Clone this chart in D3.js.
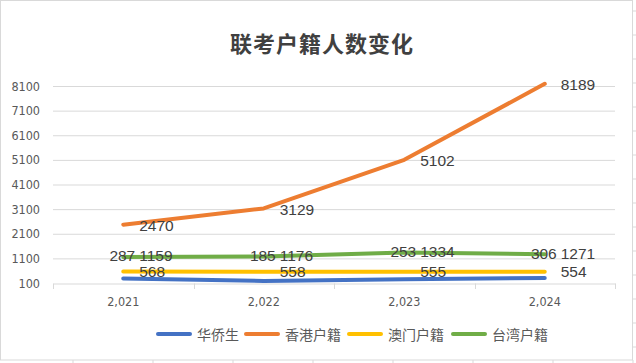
<!DOCTYPE html>
<html>
<head>
<meta charset="utf-8">
<script src="https://cdn.jsdelivr.net/npm/d3@7"></script>
<style>
  body { margin: 0; background: #fff; }
  svg { display: block; font-family: "Liberation Sans", "Noto Sans CJK SC", sans-serif; }
</style>
</head>
<body>
<div id="chart"></div>
<script>
// data
var years = [2021, 2022, 2023, 2024];
var yearLabels = ["2,021", "2,022", "2,023", "2,024"];
var huaqiao = [287, 185, 253, 306];
var hongkong = [2470, 3129, 5102, 8189];
var macau = [568, 558, 555, 554];
var taiwan = [1159, 1176, 1334, 1271];
var yTicks = [100, 1100, 2100, 3100, 4100, 5100, 6100, 7100, 8100];
var seriesNames = ["华侨生", "香港户籍", "澳门户籍", "台湾户籍"];
var seriesColors = ["#4472C4", "#ED7D31", "#FFC000", "#70AD47"];

var width = 636, height = 363;

var svg = d3.select("#chart").append("svg")
    .attr("width", width)
    .attr("height", height);

// spreadsheet cell stubs outside the chart
for (var gx = 73; gx < width; gx += 80) {
  svg.append("line").attr("x1", gx).attr("x2", gx).attr("y1", 360).attr("y2", 363)
    .attr("stroke", "#d9d9d9");
}
for (var gy = 11; gy < 360; gy += 24) {
  svg.append("line").attr("x1", 633).attr("x2", 636).attr("y1", gy).attr("y2", gy)
    .attr("stroke", "#d9d9d9");
}

// chart border
svg.append("rect")
    .attr("x", 0.5).attr("y", 0.5)
    .attr("width", 632).attr("height", 359.5)
    .attr("fill", "#fff")
    .attr("stroke", "#d9d9d9");

// title
svg.append("text")
    .attr("x", 322).attr("y", 52)
    .attr("text-anchor", "middle")
    .attr("font-family", "'Noto Sans CJK SC', sans-serif")
    .attr("font-weight", "bold")
    .attr("font-size", 22)
    .attr("letter-spacing", 1)
    .attr("fill", "#404040")
    .text("联考户籍人数变化");

// scales
var xscale = d3.scaleBand().domain(years).range([53, 615]);
var yscale = d3.scaleLinear().domain([100, 8100]).range([283, 86]);
function cx(d) { return xscale(d) + xscale.bandwidth() / 2; }

// gridlines
svg.append("g").selectAll("line")
    .data(yTicks.slice(1))
    .enter().append("line")
    .attr("x1", 53).attr("x2", 615)
    .attr("y1", function(d) { return yscale(d) + 0.5; })
    .attr("y2", function(d) { return yscale(d) + 0.5; })
    .attr("stroke", "#d9d9d9");

// y axis labels
var yAxis = d3.axisLeft(yscale).tickValues(yTicks).tickFormat(d3.format("d")).tickSize(0).tickPadding(13);
var gy2 = svg.append("g").attr("transform", "translate(53,0)").call(yAxis);
gy2.select(".domain").remove();
gy2.selectAll("text").attr("font-size", 12.5).attr("fill", "#595959")
    .attr("font-family", "'DejaVu Sans Condensed', 'Liberation Sans', sans-serif");

// x axis
var xAxis = d3.axisBottom(xscale).tickFormat(function(d, i) { return yearLabels[i]; }).tickSize(0).tickPadding(14);
var gx2 = svg.append("g").attr("transform", "translate(0,283.5)").call(xAxis);
gx2.select(".domain").attr("stroke", "#d9d9d9");
gx2.selectAll("text").attr("font-size", 12.5).attr("fill", "#595959")
    .attr("font-family", "'DejaVu Sans Condensed', 'Liberation Sans', sans-serif");
// category boundary ticks
var edges = years.map(function(d) { return xscale(d); }).concat([xscale.range()[1]]);
svg.append("g").selectAll("line").data(edges).enter().append("line")
    .attr("x1", function(d) { return Math.round(d) + 0.5; })
    .attr("x2", function(d) { return Math.round(d) + 0.5; })
    .attr("y1", 283.5).attr("y2", 289)
    .attr("stroke", "#d9d9d9");

// lines
var allSeries = [huaqiao, hongkong, macau, taiwan];
var line = d3.line()
    .x(function(d, i) { return cx(years[i]); })
    .y(function(d) { return yscale(d); });

allSeries.forEach(function(vals, s) {
  svg.append("path")
      .datum(vals)
      .attr("d", line)
      .attr("fill", "none")
      .attr("stroke", seriesColors[s])
      .attr("stroke-width", 4)
      .attr("stroke-linecap", "round")
      .attr("stroke-linejoin", "round");
});

// data labels
var labelG = svg.append("g")
    .attr("font-size", 15.5)
    .attr("fill", "#404040")
    .attr("font-family", "'Liberation Sans', sans-serif");

function rightLabels(vals, dy) {
  labelG.selectAll(null).data(vals).enter().append("text")
      .attr("x", function(d, i) { return cx(years[i]) + 16; })
      .attr("y", function(d) { return yscale(d) + dy; })
      .attr("dominant-baseline", "central")
      .text(function(d) { return d; });
}
rightLabels(hongkong, 1);
rightLabels(macau, 0);
rightLabels(taiwan, -1);

// 华侨生 labels sit left of the 台湾户籍 labels
labelG.selectAll(null).data(huaqiao).enter().append("text")
    .attr("x", function(d, i) { return cx(years[i]) + 12; })
    .attr("y", function(d, i) { return yscale(taiwan[i]) - 1; })
    .attr("dominant-baseline", "central")
    .attr("text-anchor", "end")
    .text(function(d) { return d; });

// legend
var legendX = [156, 244, 347, 451];
var legend = svg.append("g");
seriesNames.forEach(function(name, i) {
  legend.append("line")
      .attr("x1", legendX[i] + 2).attr("x2", legendX[i] + 34)
      .attr("y1", 334).attr("y2", 334)
      .attr("stroke", seriesColors[i])
      .attr("stroke-width", 4)
      .attr("stroke-linecap", "round");
  legend.append("text")
      .attr("x", legendX[i] + 41).attr("y", 334)
      .attr("dominant-baseline", "central")
      .attr("font-size", 14)
      .attr("fill", "#595959")
      .attr("font-family", "'Noto Sans CJK SC', sans-serif")
      .text(name);
});
</script>
</body>
</html>
